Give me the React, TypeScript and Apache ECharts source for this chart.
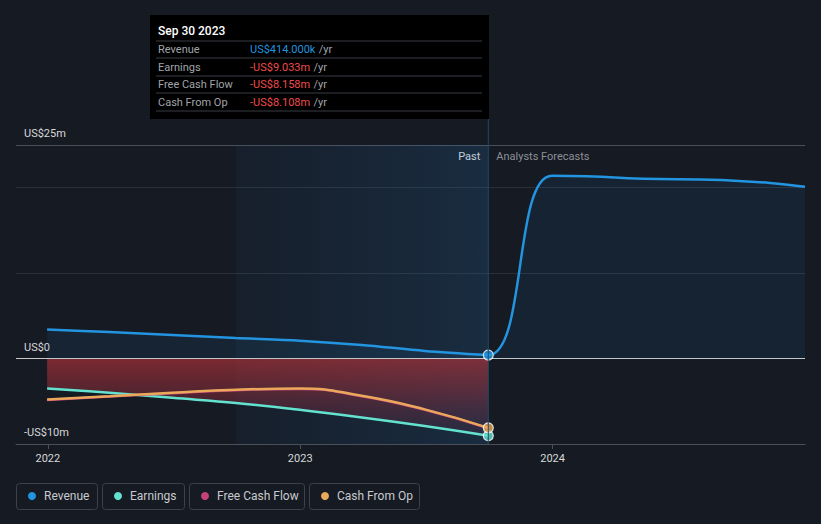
import React, { useEffect, useRef } from "react";
import * as echarts from "echarts";

const pastDates = ["2021-12-31", "2022-03-31", "2022-06-30", "2022-09-30", "2022-12-31", "2023-03-31", "2023-06-30", "2023-09-30"];
const revenuePast = [3.4, 3.1, 2.75, 2.4, 2.1, 1.6, 0.9, 0.414];
const earningsPast = [-3.5, -4.0, -4.6, -5.2, -6.0, -6.9, -7.9, -9.033];
const fcfPast = [-4.85, -4.45, -4.05, -3.7, -3.55, -4.4, -6.0, -8.158];
const cfoPast = [-4.8, -4.4, -4.0, -3.65, -3.5, -4.35, -5.95, -8.108];

const forecastDates = ["2023-12-31", "2024-06-30", "2024-12-31"];
const revenueForecast = [21.4, 21.0, 20.1];

const yearTicks = [2022, 2023, 2024];
const yLabelValues = [25, 0, -10];

const tooltipTitle = "Sep 30 2023";
const tooltipRows = [
  { name: "Revenue", value: "US$414.000k", color: "#2394df" },
  { name: "Earnings", value: "-US$9.033m", color: "#f04a4a" },
  { name: "Free Cash Flow", value: "-US$8.158m", color: "#f04a4a" },
  { name: "Cash From Op", value: "-US$8.108m", color: "#f04a4a" },
];

const legendItems = [
  { name: "Revenue", color: "#2394df", w: 81 },
  { name: "Earnings", color: "#63e2cf", w: 82 },
  { name: "Free Cash Flow", color: "#c4427c", w: 115 },
  { name: "Cash From Op", color: "#e9a85a", w: 110 },
];

const ts = (d: string) => new Date(d + "T00:00:00Z").getTime();
const pair = (dates: string[], vals: number[]) => dates.map((d, i) => [ts(d), vals[i]]);

export default function App() {
  const ref = useRef<HTMLDivElement>(null);
  useEffect(() => {
    if (!ref.current) return;
    const chart = echarts.init(ref.current, undefined, { renderer: "svg" });
    const font = "Roboto, 'Noto Sans', sans-serif";
    const n = pastDates.length;
    const last = pastDates[n - 1];
    const xMin = ts("2021-11-16");
    const xMax = ts("2024-12-31");

    const graphics: any[] = [];
    const tx = 150, ty = 15;
    graphics.push({ type: "rect", shape: { x: tx, y: ty, width: 339, height: 104 }, style: { fill: "#000000" }, z: 100 });
    graphics.push({ type: "text", x: tx + 8, y: ty + 16, style: { text: tooltipTitle, fill: "#ffffff", font: `500 12px ${font}`, verticalAlign: "middle" }, z: 101 });
    const lineYs = [41, 58, 76, 93, 111];
    lineYs.forEach((ly) => graphics.push({ type: "line", shape: { x1: tx + 6, y1: ly, x2: tx + 332, y2: ly }, style: { stroke: "#3a3d42", lineWidth: 1 }, z: 101 }));
    tooltipRows.forEach((r, i) => {
      const cy = 49.5 + i * 17.5;
      graphics.push({ type: "text", x: tx + 8, y: cy, style: { text: r.name, fill: "#a0a4aa", font: `11px ${font}`, verticalAlign: "middle" }, z: 101 });
      graphics.push({
        type: "text", x: tx + 100, y: cy,
        style: {
          text: `{v|${r.value}} {u|/yr}`,
          verticalAlign: "middle",
          rich: { v: { fill: r.color, font: `11px ${font}` }, u: { fill: "#a0a4aa", font: `11px ${font}` } },
        }, z: 101,
      });
    });
    let lx = 16;
    legendItems.forEach((it) => {
      graphics.push({ type: "rect", shape: { x: lx + 0.5, y: 483.5, width: it.w, height: 26, r: 3 }, style: { fill: "none", stroke: "#3c414a", lineWidth: 1 } });
      graphics.push({ type: "circle", shape: { cx: lx + 16, cy: 496, r: 4 }, style: { fill: it.color } });
      graphics.push({ type: "text", x: lx + 28, y: 496, style: { text: it.name, fill: "#c8cacd", font: `12px ${font}`, verticalAlign: "middle" } });
      lx += it.w + 5;
    });

    // forecast line carries the two latest reported points for a continuous curve; it is clipped to the forecast grid
    const revenueForecastLine = [
      ...pair(pastDates.slice(n - 2), revenuePast.slice(n - 2)),
      ...pair(forecastDates, revenueForecast),
    ];

    const grid1 = { left: 16, right: 16, top: 145, bottom: 80 };
    const option: any = {
      animation: false,
      backgroundColor: "#151a23",
      grid: [grid1, { ...grid1 }],
      xAxis: [
        {
          type: "value", gridIndex: 0,
          min: xMin, max: xMax,
          axisLine: { show: true, onZero: false, lineStyle: { color: "#4a4f58" } },
          axisTick: { show: true, customValues: yearTicks.map((y) => ts(`${y}-01-01`)), length: 5, lineStyle: { color: "#4a4f58" } },
          axisLabel: {
            customValues: yearTicks.map((y) => ts(`${y}-01-01`)),
            formatter: (v: number) => String(new Date(v).getUTCFullYear()),
            color: "#d8d8d8", fontSize: 11, fontFamily: font, margin: 9,
          },
          splitLine: { show: false },
        },
        { type: "value", gridIndex: 1, min: ts(last), max: xMax, show: false },
      ],
      yAxis: [
        {
          type: "value", gridIndex: 0,
          min: -10, max: 25, interval: 10,
          axisLine: { show: false },
          axisTick: { show: false },
          axisLabel: {
            inside: true,
            formatter: (v: number) => (yLabelValues.includes(v) ? (v < 0 ? `-US$${-v}m` : `US$${v}m`).replace("US$0m", "US$0") : ""),
            color: "#d8d8d8", fontSize: 11, fontFamily: font,
            verticalAlign: "bottom", margin: 8, padding: [0, 0, 6, 0],
          },
          splitLine: { show: true, lineStyle: { color: ["#4a4f58", "#c8c8c8", "#2a3039", "#2a3039", "#4a505a"], width: 1 } },
        },
        { type: "value", gridIndex: 1, min: -10, max: 25, interval: 10, show: false, splitLine: { show: false } },
      ],
      series: [
        {
          type: "line", name: "Revenue", data: pair(pastDates, revenuePast), smooth: 0.3, showSymbol: false,
          lineStyle: { color: "#2394df", width: 2.5 }, areaStyle: { color: "rgba(35,148,223,0.13)" }, z: 5,
          markArea: {
            silent: true,
            itemStyle: {
              color: new echarts.graphic.LinearGradient(0, 0, 1, 0, [
                { offset: 0, color: "rgba(40,90,140,0.08)" },
                { offset: 1, color: "rgba(40,110,170,0.22)" },
              ]),
            },
            data: [[{ xAxis: ts("2022-09-30") }, { xAxis: ts(last) }]],
          },
        },
        {
          type: "line", name: "Revenue Forecast", xAxisIndex: 1, yAxisIndex: 1, clip: true,
          data: revenueForecastLine, smooth: 0.6, smoothMonotone: "x", showSymbol: false,
          lineStyle: { color: "#2394df", width: 2.5 }, areaStyle: { color: "rgba(35,148,223,0.12)" }, z: 5,
        },
        {
          type: "line", name: "Earnings", data: pair(pastDates, earningsPast), smooth: 0.4, showSymbol: false,
          lineStyle: { color: "#63e2cf", width: 2.5 },
          areaStyle: {
            color: new echarts.graphic.LinearGradient(0, 0, 0, 1, [
              { offset: 0, color: "rgba(180,50,55,0.92)" },
              { offset: 0.4, color: "rgba(155,48,60,0.7)" },
              { offset: 1, color: "rgba(120,45,75,0.22)" },
            ]),
          }, z: 3,
        },
        {
          type: "line", name: "Free Cash Flow", data: pair(pastDates, fcfPast), smooth: 0.5, showSymbol: false,
          lineStyle: { color: "#c4427c", width: 2.5 }, z: 4,
        },
        {
          type: "line", name: "Cash From Op", data: pair(pastDates, cfoPast), smooth: 0.5, showSymbol: false,
          lineStyle: { color: "#e9a85a", width: 2.5 }, z: 4,
          markLine: {
            silent: true, symbol: "none", label: { show: false },
            lineStyle: { color: "#c8c8c8", type: "solid", width: 1 },
            data: [{ yAxis: 0 }],
          },
        },
        {
          type: "scatter", name: "markers",
          data: [
            { value: [ts(last), earningsPast[n - 1]], itemStyle: { color: "#63e2cf" } },
            { value: [ts(last), cfoPast[n - 1]], itemStyle: { color: "#e9a85a" } },
            { value: [ts(last), revenuePast[n - 1]], itemStyle: { color: "#2394df" } },
          ],
          symbolSize: 10, itemStyle: { borderColor: "#ffffff", borderWidth: 1.2 }, z: 10,
        },
      ],
      graphic: graphics,
    };
    chart.setOption(option);

    const px = chart.convertToPixel({ xAxisIndex: 0, yAxisIndex: 0 }, [ts(last), 0]) as number[];
    chart.setOption({
      grid: [grid1, { ...grid1, left: px[0] }],
      graphic: [
        ...graphics,
        { type: "line", shape: { x1: px[0], y1: 119, x2: px[0], y2: 444 }, style: { stroke: "#1f4a6a", lineWidth: 1 }, z: 20 },
        { type: "text", x: px[0] - 8, y: 156, style: { text: "Past", fill: "#e6e6e6", font: `11px ${font}`, align: "right", verticalAlign: "middle" } },
        { type: "text", x: px[0] + 8, y: 156, style: { text: "Analysts Forecasts", fill: "#8d9097", font: `11px ${font}`, align: "left", verticalAlign: "middle" } },
      ],
    });
    return () => chart.dispose();
  }, []);
  return <div ref={ref} style={{ width: 821, height: 524, position: "absolute", left: 0, top: 0 }} />;
}
